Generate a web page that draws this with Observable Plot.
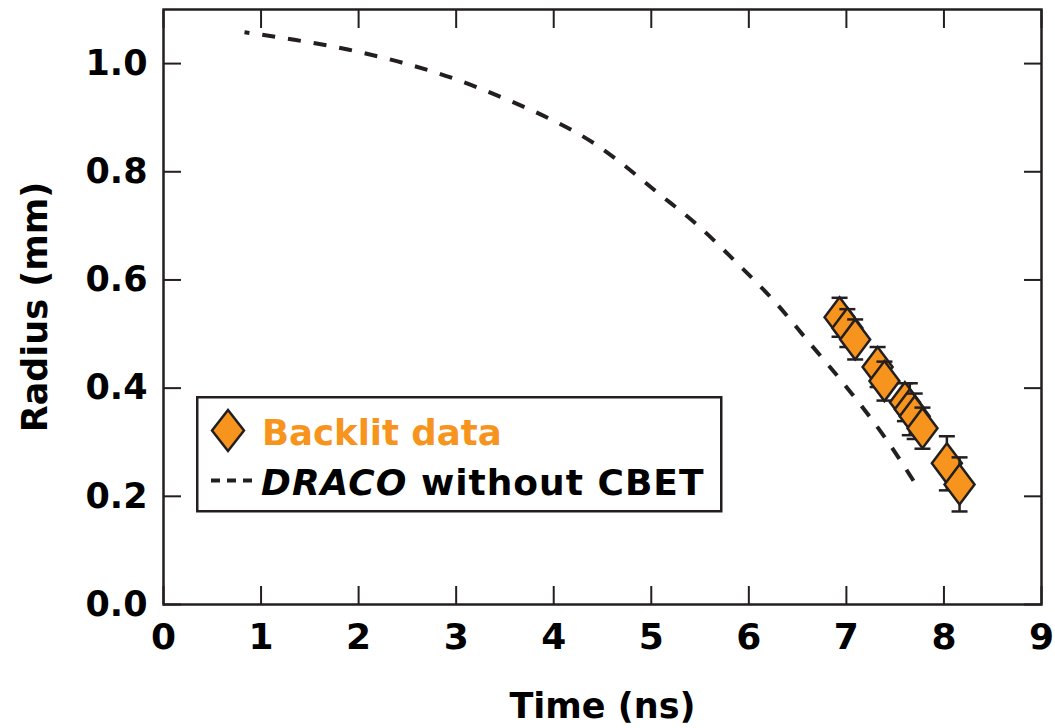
<!DOCTYPE html>
<html>
<head>
<meta charset="utf-8">
<script src="https://cdn.jsdelivr.net/npm/d3@7"></script>
<script src="https://cdn.jsdelivr.net/npm/@observablehq/plot@0.6"></script>
<style>
  html, body { margin: 0; padding: 0; background: #fff; }
  #chart { position: relative; width: 1055px; height: 728px; }
  #chart svg { position: absolute; left: 0; top: 0; }
</style>
</head>
<body>
<div id="chart"></div>
<script>
// ---- Data ----
// Backlit data points
const dataTime   = [6.93, 7.01, 7.09, 7.32, 7.39, 7.60, 7.65, 7.70, 7.78, 8.03, 8.16];
const dataRadius = [0.531, 0.511, 0.490, 0.439, 0.413, 0.374, 0.361, 0.348, 0.326, 0.261, 0.222];
const dataError  = [0.036, 0.035, 0.037, 0.037, 0.036, 0.035, 0.048, 0.042, 0.038, 0.050, 0.050];

// DRACO without CBET simulation curve
const simTime   = [0.83, 1.34, 1.89, 2.40, 2.95, 3.46, 3.97, 4.41, 4.65, 5.06, 5.47, 5.88, 6.26, 6.63, 7.01, 7.39, 7.74];
const simRadius = [1.058, 1.044, 1.026, 1.004, 0.974, 0.938, 0.897, 0.853, 0.822, 0.762, 0.702, 0.631, 0.561, 0.482, 0.400, 0.310, 0.214];

// Axis ticks
const xTicks = [0, 1, 2, 3, 4, 5, 6, 7, 8, 9];
const yTicks = [0, 0.2, 0.4, 0.6, 0.8, 1.0];

// Labels
const xLabel = "Time (ns)";
const yLabel = "Radius (mm)";
const legendData = "Backlit data";
const legendSimItalic = "DRACO";
const legendSimRest = " without CBET";

// ---- Styling ----
const ORANGE = "#f7941d";
const INK = "#231f20";
const FONT = "DejaVu Sans";

const idx = dataTime.map((_, i) => i);
const sim = simTime.map((t, i) => ({t, r: simRadius[i]}));

// custom symbols
const diamond = {
  draw(ctx, size) {
    const r = Math.sqrt(size / Math.PI);
    const w = r * 0.75;
    ctx.moveTo(0, -r); ctx.lineTo(w, 0); ctx.lineTo(0, r); ctx.lineTo(-w, 0); ctx.closePath();
  }
};
const cap = {
  draw(ctx, size) {
    const r = Math.sqrt(size / Math.PI);
    ctx.moveTo(-r, 0); ctx.lineTo(r, 0);
  }
};

// interleave per point: error bar, caps, diamond
const pointMarks = idx.flatMap(i => [
  Plot.ruleX([i], {x: j => dataTime[j], y1: j => dataRadius[j] - dataError[j], y2: j => dataRadius[j] + dataError[j], stroke: INK, strokeWidth: 2.5}),
  Plot.dot([i, i], {x: j => dataTime[j], y: (j, k) => k === 0 ? dataRadius[j] + dataError[j] : dataRadius[j] - dataError[j], symbol: cap, r: 8, stroke: INK, strokeWidth: 2.5, fill: "none"}),
  Plot.dot([i], {x: j => dataTime[j], y: j => dataRadius[j], symbol: diamond, r: 20, fill: ORANGE, stroke: INK, strokeWidth: 2.5})
]);

const plot = Plot.plot({
  width: 1055,
  height: 728,
  marginLeft: 163,
  marginRight: 14,
  marginTop: 9,
  marginBottom: 124,
  x: {domain: [0, 9]},
  y: {domain: [0, 1.1]},
  style: {fontFamily: FONT, fontWeight: "bold", background: "#fff", color: "#000", overflow: "visible"},
  marks: [
    Plot.line(sim, {x: "t", y: "r", curve: "monotone-x", stroke: INK, strokeWidth: 4, strokeLinecap: "butt", strokeDasharray: "13,13", strokeDashoffset: 8}),
    ...pointMarks,
    Plot.axisX({ticks: xTicks, tickSize: -18, tickPadding: 37, tickFormat: d3.format("d"), label: null, stroke: INK, strokeWidth: 2, fontSize: 36, fill: "#000"}),
    Plot.axisX({anchor: "top", ticks: xTicks, tickSize: -18, tickFormat: () => "", label: null, stroke: INK, strokeWidth: 2}),
    Plot.axisY({ticks: yTicks, tickSize: -18, tickPadding: 34, tickFormat: d3.format(".1f"), label: null, stroke: INK, strokeWidth: 2, fontSize: 35, fill: "#000"}),
    Plot.axisY({anchor: "right", ticks: yTicks, tickSize: -18, tickFormat: () => "", label: null, stroke: INK, strokeWidth: 2}),
    Plot.frame({stroke: INK, strokeWidth: 2.5}),
    Plot.text([xLabel], {frameAnchor: "bottom", text: d => d, lineAnchor: "bottom", dy: 113, fontSize: 35, fill: "#000"}),
    Plot.text([yLabel], {frameAnchor: "left", text: d => d, rotate: -90, lineAnchor: "middle", textAnchor: "middle", dx: -128, fontSize: 35, fill: "#000"})
  ]
});

const chart = document.getElementById("chart");
chart.appendChild(plot);

// ---- Legend overlay ----
const leg = d3.select(chart).append("svg")
  .attr("width", 1055).attr("height", 728)
  .style("font-family", FONT).style("font-weight", "bold");
leg.append("rect")
  .attr("x", 197.25).attr("y", 397.25).attr("width", 524).attr("height", 114)
  .attr("fill", "#fff").attr("stroke", INK).attr("stroke-width", 2.5);
leg.append("path")
  .attr("d", d3.line()([[228, 410], [244, 430.5], [228, 451], [212, 430.5]]) + "Z")
  .attr("fill", ORANGE).attr("stroke", INK).attr("stroke-width", 2.5);
leg.append("text").attr("x", 262).attr("y", 445).attr("font-size", 35.5).attr("fill", ORANGE).text(legendData);
leg.append("line")
  .attr("x1", 211).attr("x2", 252).attr("y1", 480.5).attr("y2", 480.5)
  .attr("stroke", INK).attr("stroke-width", 4).attr("stroke-dasharray", "9,7");
const t2 = leg.append("text").attr("x", 261).attr("y", 494.5).attr("font-size", 36).attr("letter-spacing", 1).attr("fill", "#000");
t2.append("tspan").attr("font-style", "italic").text(legendSimItalic);
t2.append("tspan").text(legendSimRest);
</script>
</body>
</html>
